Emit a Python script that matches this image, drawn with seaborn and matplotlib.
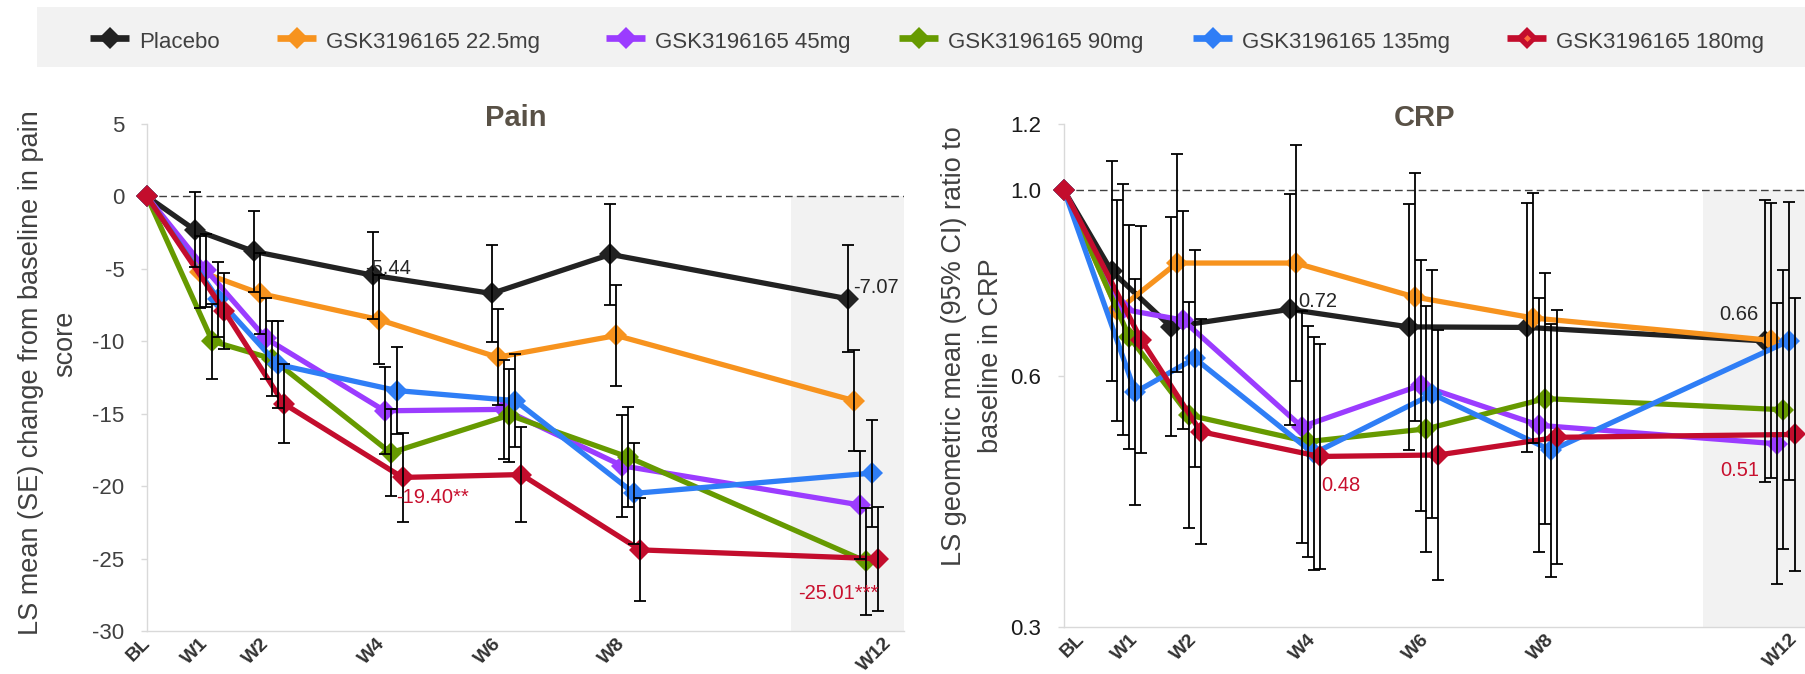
import numpy as np
import pandas as pd
import matplotlib
matplotlib.use("Agg")
import matplotlib.pyplot as plt
import seaborn as sns
from matplotlib.patches import Rectangle
from matplotlib.ticker import NullLocator, FixedLocator, FixedFormatter

# ---------------- data ----------------
weeks = [0, 1, 2, 4, 6, 8, 12]
visit_labels = ["BL", "W1", "W2", "W4", "W6", "W8", "W12"]
groups = ["Placebo", "GSK3196165 22.5mg", "GSK3196165 45mg",
          "GSK3196165 90mg", "GSK3196165 135mg", "GSK3196165 180mg"]

# Pain: LS mean change from baseline
pain_placebo = [0, -2.3, -3.8, -5.44, -6.7, -4.0, -7.07]
pain_22_5 = [0, -5.2, -6.7, -8.5, -11.1, -9.6, -14.1]
pain_45 = [0, -5.1, -9.8, -14.8, -14.7, -18.6, -21.3]
pain_90 = [0, -10.0, -11.2, -17.7, -15.1, -18.0, -25.2]
pain_135 = [0, -7.1, -11.6, -13.4, -14.1, -20.5, -19.1]
pain_180 = [0, -7.9, -14.3, -19.40, -19.2, -24.4, -25.01]

# Pain: standard errors
se_placebo = [0, 2.6, 2.8, 3.0, 3.35, 3.5, 3.7]
se_22_5 = [0, 2.5, 2.8, 3.1, 3.3, 3.5, 3.5]
se_45 = [0, 2.5, 2.8, 3.0, 3.4, 3.5, 3.7]
se_90 = [0, 2.6, 2.6, 3.0, 3.2, 3.45, 3.7]
se_135 = [0, 2.6, 3.0, 3.0, 3.2, 3.5, 3.7]
se_180 = [0, 2.6, 2.75, 3.1, 3.3, 3.56, 3.6]

# CRP: geometric mean ratio to baseline
crp_placebo = [1.0, 0.80, 0.686, 0.72, 0.686, 0.685, 0.66]
crp_22_5 = [1.0, 0.718, 0.818, 0.818, 0.745, 0.703, 0.661]
crp_45 = [1.0, 0.72, 0.699, 0.521, 0.584, 0.523, 0.497]
crp_90 = [1.0, 0.667, 0.538, 0.50, 0.518, 0.563, 0.546]
crp_135 = [1.0, 0.573, 0.629, 0.484, 0.570, 0.488, 0.66]
crp_180 = [1.0, 0.662, 0.514, 0.48, 0.482, 0.506, 0.51]

# CRP: 95% CI half-width on log10 scale
ci_placebo = [0, 0.132, 0.131, 0.138, 0.147, 0.149, 0.169]
ci_22_5 = [0, 0.132, 0.131, 0.141, 0.148, 0.150, 0.165]
ci_45 = [0, 0.150, 0.130, 0.139, 0.150, 0.152, 0.168]
ci_90 = [0, 0.134, 0.135, 0.138, 0.147, 0.150, 0.167]
ci_135 = [0, 0.135, 0.130, 0.139, 0.148, 0.151, 0.166]
ci_180 = [0, 0.136, 0.135, 0.135, 0.150, 0.152, 0.163]

pain_all = [pain_placebo, pain_22_5, pain_45, pain_90, pain_135, pain_180]
se_all = [se_placebo, se_22_5, se_45, se_90, se_135, se_180]
crp_all = [crp_placebo, crp_22_5, crp_45, crp_90, crp_135, crp_180]
ci_all = [ci_placebo, ci_22_5, ci_45, ci_90, ci_135, ci_180]

# ---------------- style ----------------
colors = ["#222222", "#f7931e", "#9b3cff", "#669a00", "#2f7ef6", "#c30d2d"]
dodge = [-0.2, -0.1, 0.0, 0.1, 0.2, 0.3]

sns.set_theme(style="white")
plt.rcParams["font.family"] = ["Liberation Sans", "DejaVu Sans"]

rows = []
for k, g in enumerate(groups):
    for i, w in enumerate(weeks):
        x = 0.0 if w == 0 else w + dodge[k]
        rows.append(dict(group=g, x=x, pain=pain_all[k][i], se=se_all[k][i],
                         crp=crp_all[k][i], ci=ci_all[k][i]))
df = pd.DataFrame(rows)

W, H = 1806, 674
fig = plt.figure(figsize=(W / 100, H / 100), dpi=100)
fig.patch.set_facecolor("white")

# legend band (pixel-coordinate overlay)
lax = fig.add_axes([0, 0, 1, 1])
lax.set_xlim(0, W)
lax.set_ylim(H, 0)
lax.axis("off")
lax.add_patch(Rectangle((37, 7), W - 37, 60, facecolor="#f2f2f2", edgecolor="none"))
leg_marker_x = [110, 297, 626, 919, 1213, 1527]
for k, g in enumerate(groups):
    m = leg_marker_x[k]
    lax.plot([m - 20, m + 19], [37.5, 37.5], color=colors[k], lw=4.8,
             solid_capstyle="butt")
    lax.plot([m], [37.5], marker="D", ms=11, color=colors[k], mew=0)
    if k == 5:
        lax.plot([m], [37.5], marker="D", ms=3.5, color="#ff6a3d", mew=0)
    lax.text(m + 29, 48, g, fontsize=16, color="#404040", va="baseline", ha="left")

ax1 = fig.add_axes([147 / W, 1 - 631 / H, 757 / W, 507 / H])
ax2 = fig.add_axes([1064 / W, 1 - 627 / H, 757 / W, 503 / H])

for ax in (ax1, ax2):
    ax.set_facecolor("none")
    for s in ("top", "right"):
        ax.spines[s].set_visible(False)
    for s in ("left", "bottom"):
        ax.spines[s].set_color("#d9d9d9")
        ax.spines[s].set_linewidth(1.0)
    ax.set_xlim(0, 12.74)
    ax.set_xticks([])
    ax.tick_params(axis="y", left=True, length=4.3, width=1, color="#d9d9d9",
                   labelsize=16, pad=12)

line_kw = dict(hue="group", hue_order=groups, palette=colors, marker="D",
               markersize=11, markeredgewidth=0, linewidth=3.8, sort=False,
               estimator=None, legend=False, clip_on=False, zorder=3)
err_kw = dict(fmt="none", ecolor="black", elinewidth=1.3, capsize=4.3,
              capthick=1.3, zorder=4)

# ---------- Pain panel ----------
ax1.axvspan(10.84, 12.74, ymin=0, ymax=30 / 35, color="#f2f2f2", zorder=0, lw=0)
ax1.axhline(0, color="#404040", lw=1.0, ls=(0, (5.5, 3)), zorder=1)
sns.lineplot(data=df, x="x", y="pain", ax=ax1, **line_kw)
for k, g in enumerate(groups):
    sub = df[(df.group == g) & (df.x > 0)]
    ax1.errorbar(sub.x, sub.pain, yerr=sub.se, **err_kw)
ax1.set_ylim(-30, 5)
ax1.set_yticks([5, 0, -5, -10, -15, -20, -25, -30])
ax1.set_yticklabels(["5", "0", "-5", "-10", "-15", "-20", "-25", "-30"],
                    color="#404040")
ax1.set_xlabel("")
ax1.set_ylabel("")

# ---------- CRP panel ----------
ax2.set_yscale("log")
ax2.set_ylim(0.3, 1.2)
frac1 = (np.log10(1.0) - np.log10(0.3)) / (np.log10(1.2) - np.log10(0.3))
ax2.axvspan(10.75, 13.0, ymin=0, ymax=frac1, color="#f2f2f2", zorder=0, lw=0)
ax2.axhline(1.0, color="#404040", lw=1.0, ls=(0, (5.5, 3)), zorder=1)
sns.lineplot(data=df, x="x", y="crp", ax=ax2, **line_kw)
for k, g in enumerate(groups):
    sub = df[(df.group == g) & (df.x > 0)]
    lo = sub.crp / 10 ** sub.ci
    hi = sub.crp * 10 ** sub.ci
    ax2.errorbar(sub.x, sub.crp, yerr=[sub.crp - lo, hi - sub.crp], **err_kw)
ax2.yaxis.set_major_locator(FixedLocator([0.3, 0.6, 1.0, 1.2]))
ax2.yaxis.set_major_formatter(FixedFormatter(["0.3", "0.6", "1.0", "1.2"]))
ax2.yaxis.set_minor_locator(NullLocator())
for t in ax2.get_yticklabels():
    t.set_color("#1a1a1a")
ax2.set_xlabel("")
ax2.set_ylabel("")

# ---------- x visit labels ----------
left_tick_pos = [-0.09, 0.89, 1.9, 3.87, 5.82, 7.9, 12.39]
right_tick_pos = [0.2, 1.1, 2.1, 4.1, 6.0, 8.1, 12.2]
for ax, pos in ((ax1, left_tick_pos), (ax2, right_tick_pos)):
    for p, lbl in zip(pos, visit_labels):
        ax.annotate(lbl, xy=(p, 0), xycoords=("data", "axes fraction"),
                    xytext=(0, -4), textcoords="offset pixels", rotation=45,
                    ha="right", va="top", rotation_mode="anchor",
                    fontsize=14, fontweight="bold", color="#333333",
                    annotation_clip=False)

# ---------- value annotations ----------
def note(ax, x, y, txt, dx, dy, ha, color):
    ax.annotate(txt, xy=(x, y), xytext=(dx, dy), textcoords="offset pixels",
                ha=ha, va="baseline", fontsize=14.5, color=color,
                annotation_clip=False, zorder=6)

red_txt = "#c8102e"
note(ax1, 4 + dodge[0], pain_placebo[3], "-5.44", -8, 1, "left", "#262626")
note(ax1, 12 + dodge[0], pain_placebo[6], "-7.07", 5, 6, "left", "#262626")
note(ax1, 4 + dodge[5], pain_180[3], "-19.40**", -6, -26, "left", red_txt)
note(ax1, 12 + dodge[5], pain_180[6], "-25.01***", 1, -40, "right", red_txt)
note(ax2, 4 + dodge[0], crp_placebo[3], "0.72", 8, 2, "left", "#262626")
note(ax2, 12 + dodge[0], crp_placebo[6], "0.66", -7, 21, "right", "#262626")
note(ax2, 4 + dodge[5], crp_180[3], "0.48", 2, -35, "left", red_txt)
note(ax2, 12 + dodge[5], crp_180[6], "0.51", -36, -42, "right", red_txt)

# ---------- titles ----------
fig.text(516 / W, 1 - 126 / H, "Pain", ha="center", va="baseline",
         fontsize=21, fontweight="bold", color="#595146")
fig.text(1425 / W, 1 - 126 / H, "CRP", ha="center", va="baseline",
         fontsize=21, fontweight="bold", color="#595146")

# ---------- y axis titles ----------
def ylab(x, y, txt):
    fig.text(x / W, 1 - y / H, txt, rotation=90, rotation_mode="anchor",
             ha="center", va="baseline", fontsize=19.5, color="#404040")

ylab(38, 373, "LS mean (SE) change from baseline in pain")
ylab(72, 344, "score")
ylab(961, 346, "LS geometric mean (95% CI) ratio to")
ylab(998, 356, "baseline in CRP")

fig.savefig("out.png", dpi=100, facecolor="white")
